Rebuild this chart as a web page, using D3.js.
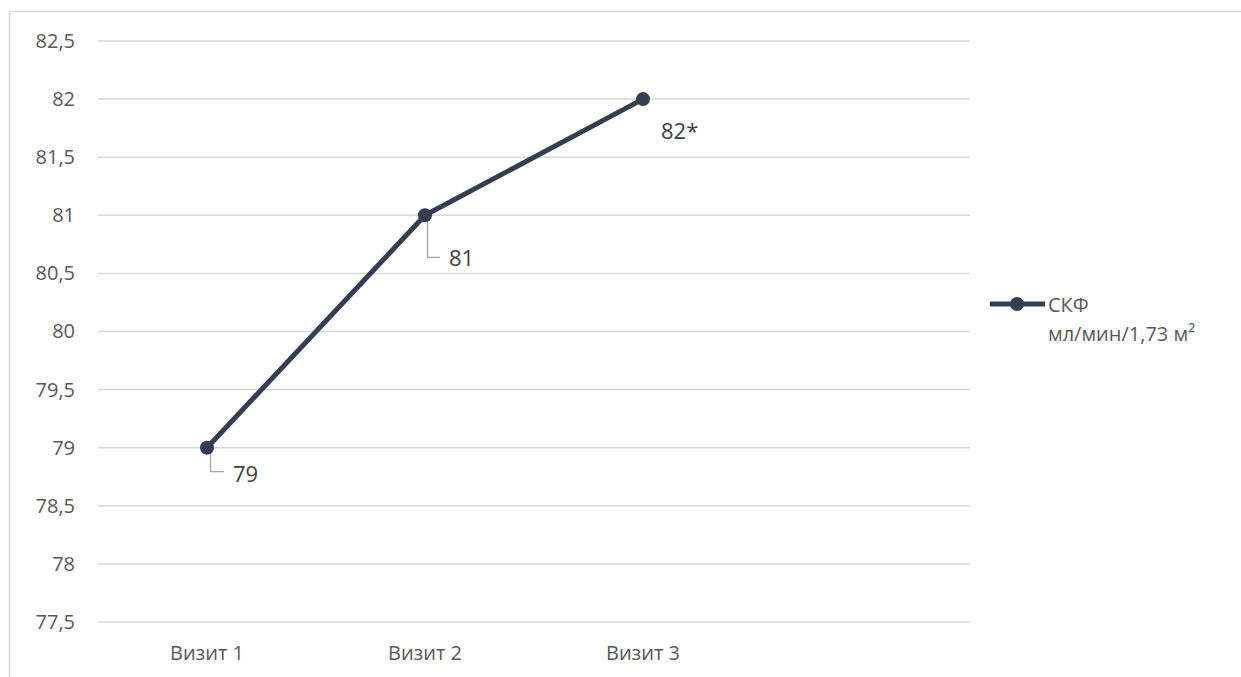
<!DOCTYPE html>
<html>
<head>
<meta charset="utf-8">
<script src="https://cdn.jsdelivr.net/npm/d3@7"></script>
<style>
  html, body { margin: 0; padding: 0; background: #fff; }
  svg { display: block; }
  text { font-family: "Open Sans", "Noto Sans", sans-serif; }
</style>
</head>
<body>
<div id="chart"></div>
<script>
// Values for the eGFR trend across visits
const categories = ["Визит 1", "Визит 2", "Визит 3", ""];
const visits = ["Визит 1", "Визит 2", "Визит 3"];
const gfrValues = [79, 81, 82];
const pointLabels = ["79", "81", "82*"];
const yTicks = [77.5, 78, 78.5, 79, 79.5, 80, 80.5, 81, 81.5, 82, 82.5];
const seriesName = ["СКФ", "мл/мин/1,73 м²"];

const W = 1241, H = 677;
const plot = { left: 98, right: 970, top: 41, bottom: 622 };
const lineColor = "#333F50";
const gridColor = "#D9D9D9";
const textColor = "#595959";
const labelColor = "#404040";

const svg = d3.select("#chart").append("svg")
  .attr("width", W).attr("height", H);

// Chart area frame
svg.append("rect")
  .attr("x", 9.5).attr("y", 11.5)
  .attr("width", W + 20).attr("height", H + 20)
  .attr("fill", "#fff").attr("stroke", gridColor).attr("stroke-width", 1.5);

const x = d3.scaleBand().domain(categories).range([plot.left, plot.right]);
const y = d3.scaleLinear().domain([77.5, 82.5]).range([plot.bottom, plot.top]);

const ruLocale = d3.formatLocale({ decimal: ",", thousands: "\u00a0", grouping: [3], currency: ["", " ₽"] });
const fmt = ruLocale.format("~f");

// Horizontal gridlines
svg.append("g")
  .selectAll("line").data(yTicks).join("line")
  .attr("x1", plot.left).attr("x2", plot.right)
  .attr("y1", d => y(d)).attr("y2", d => y(d))
  .attr("stroke", gridColor).attr("stroke-width", 1.5);

// Y axis labels
const yAxis = d3.axisLeft(y).tickValues(yTicks).tickFormat(fmt).tickSize(0).tickPadding(23);
const gy = svg.append("g").attr("transform", `translate(${plot.left},0)`).call(yAxis);
gy.select(".domain").remove();
gy.selectAll("text").attr("fill", textColor).style("font-size", "20px")
  .style("font-family", "'Open Sans', sans-serif");

// X axis labels
const xAxis = d3.axisBottom(x).tickSize(0).tickPadding(24);
const gx = svg.append("g").attr("transform", `translate(0,${plot.bottom})`).call(xAxis);
gx.select(".domain").remove();
gx.selectAll("text").attr("fill", textColor).style("font-size", "20px")
  .style("font-family", "'Open Sans', sans-serif");

const cx = d => x(d) + x.bandwidth() / 2;
const pts = visits.map((v, i) => ({ v, val: gfrValues[i], label: pointLabels[i] }));

// Series line
svg.append("path")
  .datum(pts)
  .attr("fill", "none")
  .attr("stroke", lineColor)
  .attr("stroke-width", 5)
  .attr("stroke-linejoin", "round")
  .attr("d", d3.line().x(d => cx(d.v)).y(d => y(d.val)));

// Leader lines for the first two labels
const leaders = [
  { i: 0, dx: 3.5, dy: 24, hx: 17 },
  { i: 1, dx: 2.5, dy: 42, hx: 15 }
];
svg.append("g").selectAll("path").data(leaders).join("path")
  .attr("fill", "none").attr("stroke", "#A6A6A6").attr("stroke-width", 1.3)
  .attr("d", d => {
    const px = cx(pts[d.i].v), py = y(pts[d.i].val);
    return `M${px + d.dx},${py} L${px + d.dx},${py + d.dy} L${px + d.hx},${py + d.dy}`;
  });

// Markers
svg.append("g").selectAll("circle").data(pts).join("circle")
  .attr("cx", d => cx(d.v)).attr("cy", d => y(d.val))
  .attr("r", 7).attr("fill", lineColor);

// Data labels
const labelOffsets = [{ dx: 26, dy: 25 }, { dx: 24, dy: 42 }, { dx: 18, dy: 31 }];
svg.append("g").selectAll("text").data(pts).join("text")
  .attr("x", (d, i) => cx(d.v) + labelOffsets[i].dx)
  .attr("y", (d, i) => y(d.val) + labelOffsets[i].dy)
  .attr("dominant-baseline", "central")
  .attr("fill", labelColor)
  .style("font-size", "22px")
  .text(d => d.label);

// Legend
const lg = svg.append("g");
lg.append("line").attr("x1", 990).attr("x2", 1045).attr("y1", 304).attr("y2", 304)
  .attr("stroke", lineColor).attr("stroke-width", 5);
lg.append("circle").attr("cx", 1017).attr("cy", 304).attr("r", 7).attr("fill", lineColor);
lg.selectAll("text").data(seriesName).join("text")
  .attr("x", 1048).attr("y", (d, i) => 304 + i * 29)
  .attr("dominant-baseline", "central")
  .attr("fill", textColor).style("font-size", "20px")
  .text(d => d);
</script>
</body>
</html>
